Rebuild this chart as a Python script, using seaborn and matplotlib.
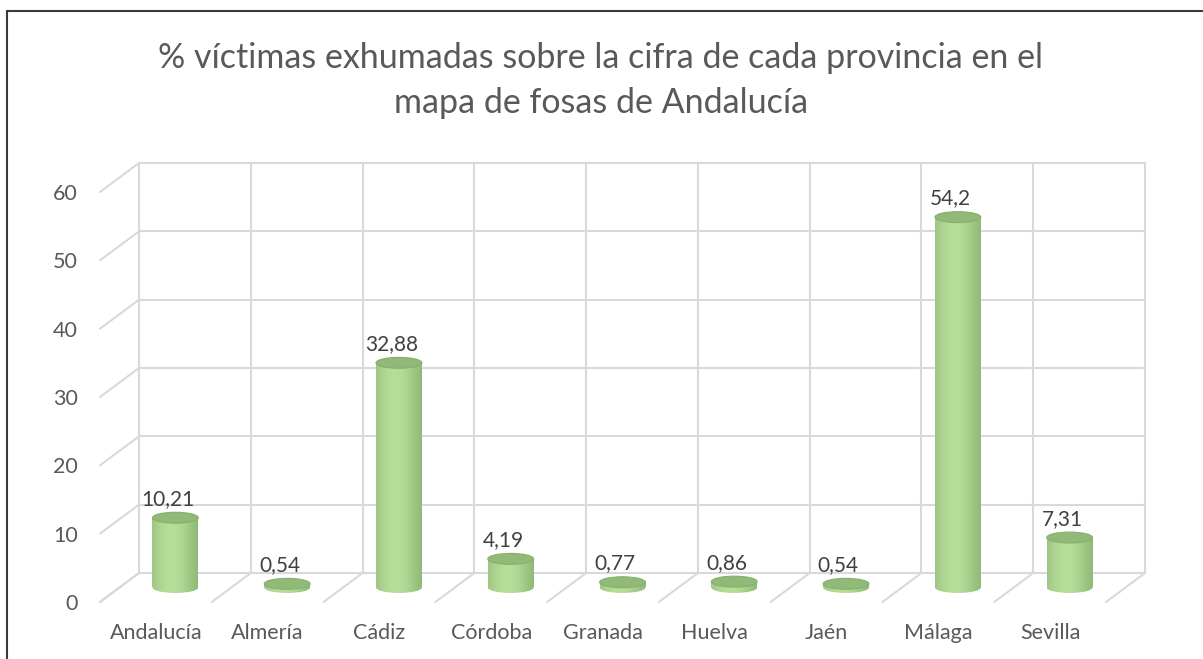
import numpy as np
import matplotlib.pyplot as plt
import seaborn as sns
from matplotlib.patches import Ellipse
from matplotlib.lines import Line2D

provincias = ["Andalucía", "Almería", "Cádiz", "Córdoba", "Granada",
              "Huelva", "Jaén", "Málaga", "Sevilla"]
porcentajes = [10.21, 0.54, 32.88, 4.19, 0.77, 0.86, 0.54, 54.2, 7.31]
etiquetas = ["10,21", "0,54", "32,88", "4,19", "0,77", "0,86", "0,54", "54,2", "7,31"]
yticks = [0, 10, 20, 30, 40, 50, 60]
titulo = "% víctimas exhumadas sobre la cifra de cada provincia en el\nmapa de fosas de Andalucía"

sns.set_style("white")
plt.rcParams['font.family'] = ['Lato', 'DejaVu Sans']

W, H = 1203, 659
fig = plt.figure(figsize=(W / 100, H / 100), dpi=100)

# axes in pixel terms: x -0.5..8.5 -> 119.5..1125.5, y 0 -> 587.5, 10 units = 68.33 px
px_x = 1006 / 9
px_y = 410 / 60
ylo, yhi = -3, 66
y0_px = 587.5
bot_px = y0_px - ylo * px_y
top_px = y0_px - yhi * px_y
ax = fig.add_axes([119.5 / W, (H - bot_px) / H, 1006 / W, (bot_px - top_px) / H])

# depth offset of back wall / front edge relative to the cylinder plane
DX = 19.5 / px_x
DY = 14.5 / px_y
grid_c = "#d9d9d9"
n = len(provincias)
gl = dict(color=grid_c, lw=1.5, zorder=1, clip_on=False)

# back wall, left wall and floor
for y in yticks:
    ax.plot([-0.5 + DX, n - 0.5 + DX], [y + DY, y + DY], **gl)
    ax.plot([-0.5 + DX, -0.5 - DX], [y + DY, y - DY], **gl)
for k in range(n + 1):
    ax.plot([-0.5 + k + DX, -0.5 + k + DX], [DY, yticks[-1] + DY], **gl)
    ax.plot([-0.5 + k + DX, -0.5 + k - DX], [DY, -DY], **gl)

# cylinders
bw = 0.41
eh = 1.6
sns.barplot(x=provincias, y=porcentajes, width=bw, color="#a9d18e", ax=ax,
            zorder=3, linewidth=0)

t = np.linspace(0, 1, 200)
shade = np.clip(0.55 + 0.45 * np.cos((t - 0.42) * np.pi * 1.05), 0, 1)
dark = np.array([0.47, 0.62, 0.37])
light = np.array([0.71, 0.87, 0.60])
grad = (dark[None, :] + (light - dark)[None, :] * shade[:, None])[None, :, :]

for p, lab in zip(ax.patches, etiquetas):
    x0, w, h = p.get_x(), p.get_width(), p.get_height()
    xc = x0 + w / 2
    p.set_visible(False)
    im = ax.imshow(grad, extent=[x0, x0 + w, 0, h], aspect="auto", zorder=3,
                   interpolation="bilinear")
    im.set_clip_path(plt.Rectangle((x0, 0), w, h, transform=ax.transData))
    im2 = ax.imshow(grad, extent=[x0, x0 + w, -eh, eh], aspect="auto", zorder=3,
                    interpolation="bilinear")
    im2.set_clip_path(Ellipse((xc, 0), w, eh, transform=ax.transData))
    ax.add_patch(Ellipse((xc, h), w, eh, facecolor="#91b977", edgecolor="#88af6d",
                         lw=0.8, zorder=4))
    ax.annotate(lab, (xc, h), xytext=(-5.5, 13.5), textcoords="offset points",
                ha="center", va="center", fontsize=15, color="#404040", zorder=5)

ax.set_xlim(-0.5, n - 0.5)
ax.set_ylim(ylo, yhi)
ax.set_xticks(np.arange(n) - DX)
ax.set_xticklabels(provincias)
ax.set_yticks(np.array(yticks) - DY)
ax.set_yticklabels([str(v) for v in yticks])
ax.tick_params(axis="both", length=0, labelsize=15.5, labelcolor="#595959")
ax.tick_params(axis="x", pad=11)
ax.tick_params(axis="y", pad=30)
ax.set_xlabel("")
ax.set_ylabel("")
for s in ax.spines.values():
    s.set_visible(False)
ax.patch.set_alpha(0)

fig.text(601 / W, 1 - 80.5 / H, titulo, ha="center", va="center", fontsize=24.5,
         color="#595959", linespacing=1.5)

# chart border
fig.add_artist(Line2D([7 / W, 7 / W], [0, 1 - 11 / H], color="#3a3a3a", lw=1.5))
fig.add_artist(Line2D([7 / W, 1], [1 - 11 / H, 1 - 11 / H], color="#3a3a3a", lw=1.5))

fig.savefig("out.png", dpi=100)
